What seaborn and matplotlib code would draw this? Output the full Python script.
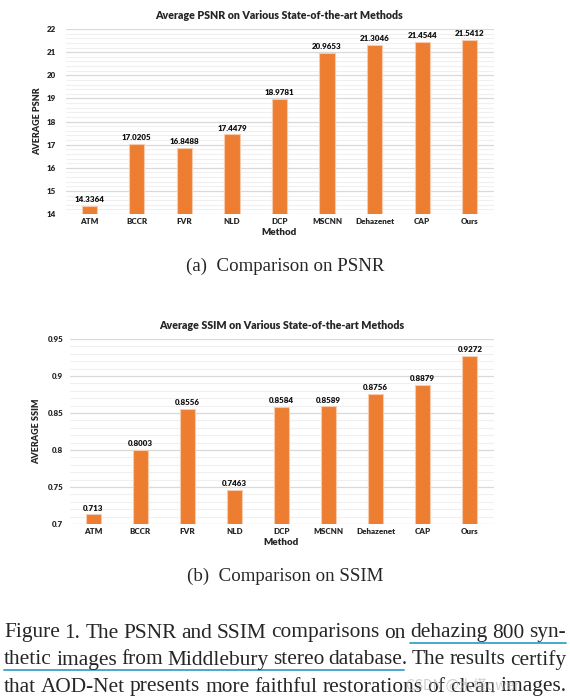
import matplotlib
matplotlib.use("Agg")
import matplotlib.pyplot as plt
import seaborn as sns
import numpy as np
from matplotlib.ticker import MultipleLocator

# data
methods = ['ATM', 'BCCR', 'FVR', 'NLD', 'DCP', 'MSCNN', 'Dehazenet', 'CAP', 'Ours']
psnr = [14.3364, 17.0205, 16.8488, 17.4479, 18.9781, 20.9653, 21.3046, 21.4544, 21.5412]
ssim = [0.713, 0.8003, 0.8556, 0.7463, 0.8584, 0.8589, 0.8756, 0.8879, 0.9272]
psnr_labels = ['14.3364', '17.0205', '16.8488', '17.4479', '18.9781', '20.9653', '21.3046', '21.4544', '21.5412']
ssim_labels = ['0.713', '0.8003', '0.8556', '0.7463', '0.8584', '0.8589', '0.8756', '0.8879', '0.9272']

caption = ["Figure 1. The PSNR and SSIM comparisons on dehazing 800 syn-",
           "thetic images from Middlebury stereo database. The results certify",
           "that AOD-Net presents more faithful restorations of clean images."]

sns.set_theme(style="white")
plt.rcParams['font.family'] = ['Lato', 'DejaVu Sans']

ORANGE = '#ED7D31'
EDGE = '#F8CBAD'

fig = plt.figure(figsize=(5.70, 6.98), dpi=100)


def bar_panel(rect, vals, labels, ylim, major, minor, fmt, title, ylabel, ypad, ylab_x):
    ax = fig.add_axes(rect)
    sns.barplot(x=methods, y=vals, color=ORANGE, width=0.32, edgecolor=EDGE,
                linewidth=0.8, saturation=1, ax=ax, zorder=3)
    ax.set_ylim(*ylim)
    ax.yaxis.set_major_locator(MultipleLocator(major))
    ax.yaxis.set_minor_locator(MultipleLocator(minor))
    ax.grid(which='major', axis='y', color='#d9d9d9', linewidth=0.9, zorder=0)
    ax.grid(which='minor', axis='y', color='#f0f0f0', linewidth=0.8, zorder=0)
    ax.set_axisbelow(True)
    for s in ax.spines.values():
        s.set_visible(False)
    ax.tick_params(axis='both', which='both', length=0, labelsize=5.8)
    ax.tick_params(axis='y', pad=ypad)
    ax.tick_params(axis='x', pad=3)
    for t in ax.get_xticklabels() + ax.get_yticklabels():
        t.set_fontweight('heavy')
    ax.yaxis.set_major_formatter(matplotlib.ticker.FuncFormatter(fmt))
    ax.bar_label(ax.containers[0], labels=labels, padding=2, fontsize=5.8,
                 fontweight='heavy', color='#111111')
    ax.set_title(title, fontsize=7.7, fontweight='heavy', pad=7)
    ax.set_xlabel('Method', fontsize=7, fontweight='heavy', labelpad=2)
    ax.set_ylabel(ylabel, fontsize=6.5, fontweight='heavy')
    ax.yaxis.set_label_coords(ylab_x, 0.5)
    return ax


bar_panel([65.5 / 570, 0.6934, 428 / 570, 0.265], psnr, psnr_labels, (14, 22), 1, 0.2,
          lambda v, p: f'{v:g}', 'Average PSNR on Various State-of-the-art Methods',
          'AVERAGE PSNR', 7, -0.055)
bar_panel([69.5 / 570, 0.2493, 424 / 570, 0.265], ssim, ssim_labels, (0.7, 0.95), 0.05, 0.01,
          lambda v, p: f'{round(v, 2):g}', 'Average SSIM on Various State-of-the-art Methods',
          'AVERAGE SSIM', 4.5, -0.067)

serif = ['Liberation Serif', 'DejaVu Serif']
fig.text(0.5, 1 - 266 / 698, '(a)  Comparison on PSNR', ha='center', va='center',
         fontsize=13.6, family=serif)
fig.text(0.5, 1 - 576 / 698, '(b)  Comparison on SSIM', ha='center', va='center',
         fontsize=13.6, family=serif)

# figure caption, justified between x=4 and x=566
fig.canvas.draw()
r = fig.canvas.get_renderer()
CAP_FS = 15.4
L, R = 4, 566


def text_w(s):
    t = fig.text(0, 0, s, fontsize=CAP_FS, family=serif)
    w = t.get_window_extent(r).width
    t.remove()
    return w


ys = [633, 660, 687]
word_pos = []
for line, y in zip(caption, ys):
    words = line.split(' ')
    widths = [text_w(w) for w in words]
    gap = (R - L - sum(widths)) / (len(words) - 1)
    x = L
    pos = []
    for w, wd in zip(words, widths):
        fig.text(x / 570, 1 - y / 698, w, ha='left', va='center',
                 fontsize=CAP_FS, family=serif)
        pos.append((x, x + wd))
        x += wd + gap
    word_pos.append(pos)

# underlines under the linked phrase
blue = '#3AA0C8'
fig.add_artist(plt.Line2D([word_pos[0][8][0] / 570, word_pos[0][10][1] / 570],
                          [1 - 643 / 698] * 2, color=blue, lw=1.3))
fig.add_artist(plt.Line2D([word_pos[1][0][0] / 570, (word_pos[1][5][1] - 4) / 570],
                          [1 - 670 / 698] * 2, color=blue, lw=1.3))

fig.text(520 / 570, 1 - 685 / 698, 'CSDN @木槿qwer', ha='right', va='center', fontsize=10,
         color='#b0b0b0', alpha=0.6, family=['Noto Sans CJK SC', 'DejaVu Sans'])

fig.savefig('out.png', dpi=100)
